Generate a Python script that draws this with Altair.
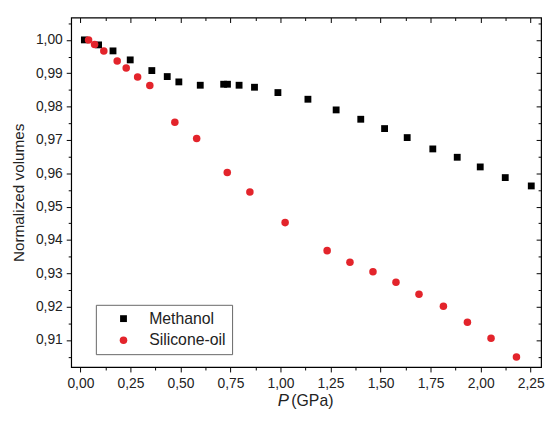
import altair as alt
import pandas as pd

# ---- data ----
series_names = ["Methanol", "Silicone-oil"]

methanol_p = [0.020, 0.091, 0.163, 0.249, 0.357, 0.434, 0.492, 0.599, 0.716, 0.735,
              0.793, 0.870, 0.987, 1.137, 1.278, 1.401, 1.520, 1.633, 1.761, 1.883,
              1.998, 2.123, 2.253]
methanol_v = [1.0000, 0.9985, 0.9967, 0.9940, 0.9908, 0.9890, 0.9874, 0.9864, 0.9867, 0.9867,
              0.9864, 0.9858, 0.9842, 0.9822, 0.9790, 0.9762, 0.9734, 0.9707, 0.9673, 0.9648,
              0.9619, 0.9587, 0.9562]

silicone_p = [0.041, 0.071, 0.117, 0.184, 0.229, 0.286, 0.347, 0.472, 0.581, 0.734,
              0.847, 1.023, 1.233, 1.347, 1.462, 1.577, 1.692, 1.814, 1.934, 2.052, 2.179]
silicone_v = [1.0000, 0.9986, 0.9967, 0.9937, 0.9916, 0.9889, 0.9863, 0.9753, 0.9704, 0.9602,
              0.9544, 0.9452, 0.9368, 0.9333, 0.9305, 0.9273, 0.9237, 0.9201, 0.9153, 0.9105, 0.9049]

x_major = [0.0, 0.25, 0.5, 0.75, 1.0, 1.25, 1.5, 1.75, 2.0, 2.25]
x_minor = [0.125, 0.375, 0.625, 0.875, 1.125, 1.375, 1.625, 1.875, 2.125]
y_major = [0.91, 0.92, 0.93, 0.94, 0.95, 0.96, 0.97, 0.98, 0.99, 1.00]
y_minor = [0.905, 0.915, 0.925, 0.935, 0.945, 0.955, 0.965, 0.975, 0.985, 0.995, 1.005]

x_title_parts = ["P", "(GPa)"]
y_title = "Normalized volumes"

df = pd.DataFrame({
    "P": methanol_p + silicone_p,
    "V": methanol_v + silicone_v,
    "series": [series_names[0]] * len(methanol_p) + [series_names[1]] * len(silicone_p),
})

FONT = "Liberation Sans"
W, H = 476, 354

xs = alt.Scale(domain=[-0.046, 2.302], nice=False, zero=False)
ys = alt.Scale(domain=[0.9019, 1.0067], nice=False, zero=False)

x_all = sorted(x_major + x_minor)
y_all = sorted(y_major + y_minor)

x_is_major = "abs(datum.value*4 - round(datum.value*4)) < 0.001"
y_is_major = "abs(datum.value*100 - round(datum.value*100)) < 0.001"

bottom_axis = alt.Axis(
    values=x_all, domain=False, grid=False,
    tickSize={"condition": {"test": x_is_major, "value": 5}, "value": 3},
    tickColor="black", tickWidth=1,
    labelExpr=f"{x_is_major} ? replace(format(datum.value, '.2f'), '.', ',') : ''",
    labelFont=FONT, labelFontSize=14, labelColor="#222", labelPadding=5,
    title=None,
)
left_axis = alt.Axis(
    values=y_all, domain=False, grid=False,
    tickSize={"condition": {"test": y_is_major, "value": 5}, "value": 3},
    tickColor="black", tickWidth=1,
    labelExpr=f"{y_is_major} ? replace(format(datum.value, '.2f'), '.', ',') : ''",
    labelFont=FONT, labelFontSize=14, labelColor="#222", labelPadding=4,
    title=y_title, titleFont=FONT, titleFontSize=15.5, titleFontWeight="normal",
    titleColor="#222", titlePadding=9,
)

legend_kw = dict(title=None, orient="none", legendX=25, legendY=291,
                 labelFont=FONT, labelFontSize=16, labelColor="#222",
                 symbolSize=55, symbolOffset=14, labelOffset=18,
                 padding=6, rowPadding=6, strokeColor="#666",
                 fillColor="white", symbolStrokeWidth=0)

points = alt.Chart(df).mark_point(filled=True, opacity=1, strokeWidth=0).encode(
    x=alt.X("P:Q", scale=xs, axis=bottom_axis),
    y=alt.Y("V:Q", scale=ys, axis=left_axis),
    color=alt.Color("series:N", scale=alt.Scale(domain=series_names, range=["#000000", "#e3242b"]),
                    legend=alt.Legend(**legend_kw)),
    shape=alt.Shape("series:N", scale=alt.Scale(domain=series_names, range=["square", "circle"]),
                    legend=alt.Legend(**legend_kw)),
    size=alt.Size("series:N", scale=alt.Scale(domain=series_names, range=[48, 58]), legend=None),
)

top_major = alt.Chart(df).mark_point(opacity=0).encode(
    x=alt.X("P:Q", scale=xs, axis=alt.Axis(orient="top", values=x_major, labels=False, domain=False,
                                            grid=False, tickSize=5, offset=-5, tickColor="black", title=None)),
    y=alt.Y("V:Q", scale=ys, axis=alt.Axis(orient="right", values=y_major, labels=False, domain=False,
                                            grid=False, tickSize=5, offset=-5, tickColor="black", title=None)),
)
top_minor = alt.Chart(df).mark_point(opacity=0).encode(
    x=alt.X("P:Q", scale=xs, axis=alt.Axis(orient="top", values=x_minor, labels=False, domain=False,
                                            grid=False, tickSize=3, offset=-3, tickColor="black", title=None)),
    y=alt.Y("V:Q", scale=ys, axis=alt.Axis(orient="right", values=y_minor, labels=False, domain=False,
                                            grid=False, tickSize=3, offset=-3, tickColor="black", title=None)),
)

title_df = pd.DataFrame({"t": x_title_parts})
title_p = alt.Chart(title_df).transform_filter(alt.datum.t == "P").mark_text(
    font=FONT, fontSize=17, fontStyle="italic", color="#222", align="center", baseline="alphabetic"
).encode(text="t:N", x=alt.value(215), y=alt.value(393))
title_rest = alt.Chart(title_df).transform_filter(alt.datum.t == "(GPa)").mark_text(
    font=FONT, fontSize=16, color="#222", align="left", baseline="alphabetic"
).encode(text="t:N", x=alt.value(223), y=alt.value(393))

chart = alt.layer(points, top_major, top_minor, title_p, title_rest).resolve_axis(
    x="independent", y="independent"
).properties(
    width=W, height=H,
    autosize=alt.AutoSizeParams(type="none"),
    padding={"left": 64, "top": 7, "right": 6, "bottom": 50},
    background="white",
).configure_view(stroke="black", strokeWidth=1.2)

chart.save("out.html", embed_options={"renderer": "svg", "actions": False})
